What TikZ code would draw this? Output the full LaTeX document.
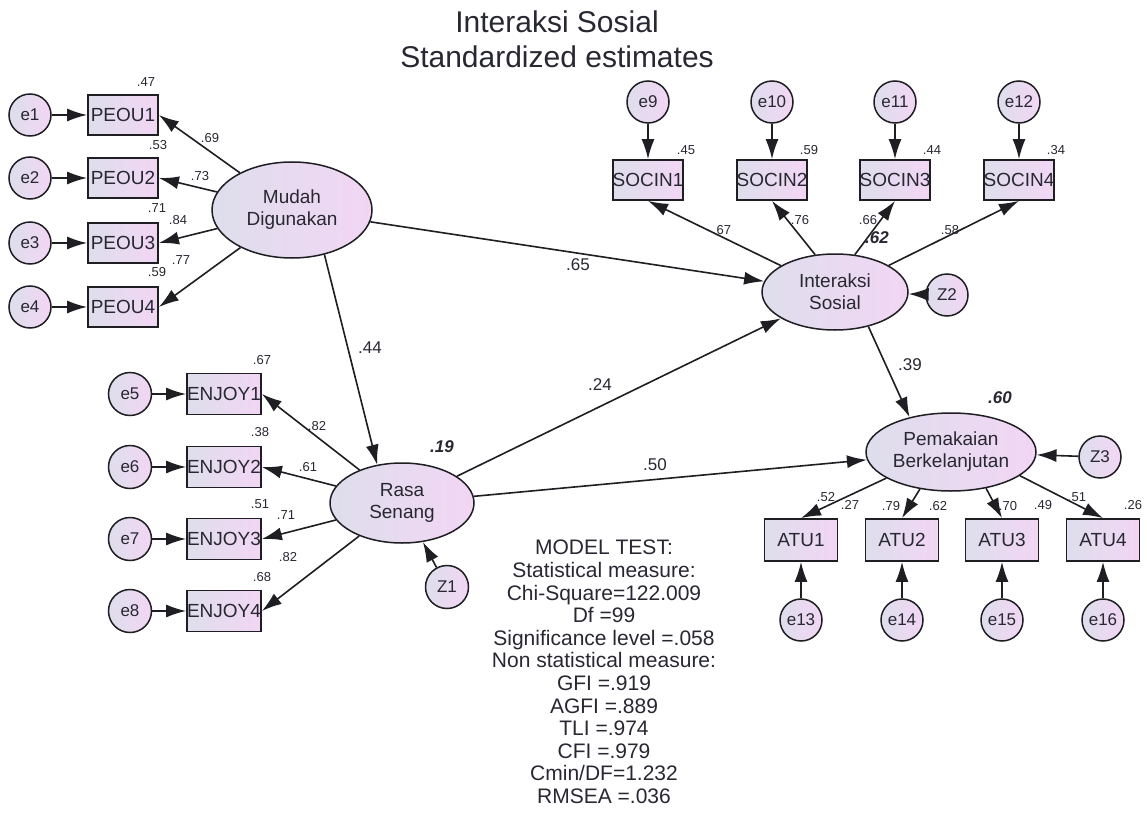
\documentclass[tikz,border=0pt]{standalone}
\usepackage{fontspec}
\setmainfont{Liberation Sans}
\usetikzlibrary{arrows.meta,shapes.geometric}
\definecolor{ln}{RGB}{30,30,35}
\definecolor{txt}{RGB}{40,40,50}
\definecolor{fillL}{RGB}{222,222,236}
\definecolor{fillR}{RGB}{242,214,244}
\begin{document}
\begin{tikzpicture}[x=1pt,y=-1pt,
  every node/.style={text=txt},
  lat/.style={ellipse, draw=ln, line width=1.5pt, left color=fillL, right color=fillR, inner sep=0pt, align=center, font=\fontsize{19}{22}\selectfont},
  obs/.style={rectangle, draw=ln, line width=1.8pt, left color=fillL, right color=fillR, minimum width=70pt, minimum height=40pt, inner sep=0pt, font=\fontsize{19}{22}\selectfont},
  err/.style={circle, draw=ln, line width=1.5pt, left color=fillL, right color=fillR, minimum size=42pt, inner sep=0pt, font=\fontsize{17}{20}\selectfont},
  arr/.style={draw=ln, line width=1.6pt, -{Latex[length=20pt,width=13pt]}},
  sm/.style={font=\fontsize{13}{15}\selectfont},
  md/.style={font=\fontsize{17}{19}\selectfont},
  rsq/.style={font=\fontsize{17}{19}\selectfont\bfseries\itshape}
]
\useasboundingbox[fill=white] (0,0) rectangle (1147,818);

% title
\node[font=\fontsize{30}{34}\selectfont] (t1) at (557,22) {Interaksi Sosial};
\node[font=\fontsize{30}{34}\selectfont] (t2) at (557,57) {Standardized estimates};

% ---------- Mudah Digunakan ----------
\node[lat, minimum width=160pt, minimum height=96pt] (mudah) at (292,210) {Mudah\\Digunakan};
\foreach \i/\y in {1/115,2/178,3/243,4/307}{
  \node[obs] (peou\i) at (123,\y) {PEOU\i};
  \node[err] (e\i) at (30,\y) {e\i};
  \draw[arr] (e\i) -- (peou\i);
  \draw[arr] (mudah) -- (peou\i.east);
}
\node[sm] (r1) at (146,82) {.47};
\node[sm] (r2) at (158,145) {.53};
\node[sm] (r3) at (157,208) {.71};
\node[sm] (r4) at (157,272) {.59};
\node[sm] (l1) at (210,138) {.69};
\node[sm] (l2) at (200,176) {.73};
\node[sm] (l3) at (178,220) {.84};
\node[sm] (l4) at (181,260) {.77};

% ---------- Rasa Senang ----------
\node[lat, minimum width=144pt, minimum height=80pt] (rasa) at (402,503) {Rasa\\Senang};
\foreach \i/\y in {1/394,2/467,3/539,4/611}{
  \node[obs, minimum width=74pt, minimum height=41pt] (enjoy\i) at (224,\y) {ENJOY\i};
  \pgfmathtruncatemacro\k{\i+4}
  \node[err, minimum size=43pt] (e\k) at (130,\y) {e\k};
  \draw[arr] (e\k) -- (enjoy\i);
  \draw[arr] (rasa) -- (enjoy\i.east);
}
\node[err, minimum size=43pt] (z1) at (447,587) {Z1};
\draw[arr] (z1) -- (rasa);
\node[sm] (r5) at (262,360) {.67};
\node[sm] (r6) at (260,432) {.38};
\node[sm] (r7) at (260,504) {.51};
\node[sm] (r8) at (262,577) {.68};
\node[sm] (l5) at (317,426) {.82};
\node[sm] (l6) at (308,467) {.61};
\node[sm] (l7) at (286,515) {.71};
\node[sm] (l8) at (288,557) {.82};
\node[rsq] (rq1) at (442,447) {.19};

% ---------- Interaksi Sosial ----------
\node[lat, minimum width=146pt, minimum height=76pt] (inter) at (835,292) {Interaksi\\Sosial};
\foreach \i/\x in {1/648,2/772,3/895,4/1019}{
  \node[obs] (socin\i) at (\x,180) {SOCIN\i};
  \pgfmathtruncatemacro\k{\i+8}
  \node[err] (e\k) at (\x,102) {e\k};
  \draw[arr] (e\k) -- (socin\i);
}
\draw[arr] (inter) -- (socin1.south);
\draw[arr] (inter.118) -- (socin2.south);
\draw[arr] (inter.62) -- (socin3.south);
\draw[arr] (inter) -- (socin4.south);
\node[err] (z2) at (947,295) {Z2};
\draw[arr] (z2) -- (inter);
\node[sm] (r9) at (686,150) {.45};
\node[sm] (r10) at (809,150) {.59};
\node[sm] (r11) at (932,150) {.44};
\node[sm] (r12) at (1056,150) {.34};
\node[sm] (l9) at (722,230) {.67};
\node[sm] (l10) at (800,220) {.76};
\node[sm] (l11) at (868,220) {.66};
\node[sm] (l12) at (950,230) {.58};
\node[rsq] (rq2) at (877,238) {.62};

% ---------- Pemakaian Berkelanjutan ----------
\node[lat, minimum width=170pt, minimum height=78pt] (pem) at (951,452) {Pemakaian\\Berkelanjutan};
\foreach \i/\x in {1/801,2/902,3/1002,4/1103}{
  \node[obs, minimum width=73pt, minimum height=42pt] (atu\i) at (\x,540) {ATU\i};
  \pgfmathtruncatemacro\k{\i+12}
  \node[err] (e\k) at (\x,620) {e\k};
  \draw[arr] (e\k) -- (atu\i);
}
\draw[arr] (pem.-158) -- (atu1.north);
\draw[arr] (pem.-130) -- (atu2.north);
\draw[arr] (pem.-46) -- (atu3.north);
\draw[arr] (pem.-19) -- (atu4.north);
\node[err] (z3) at (1100,457) {Z3};
\draw[arr] (z3) -- (pem);
\node[sm] (l13) at (826,497) {.52};
\node[sm] (l14) at (891,506) {.79};
\node[sm] (l15) at (1008,506) {.70};
\node[sm] (l16) at (1077,497) {.51};
\node[sm] (r13) at (850,505) {.27};
\node[sm] (r14) at (938,506) {.62};
\node[sm] (r15) at (1043,505) {.49};
\node[sm] (r16) at (1133,505) {.26};
\node[rsq] (rq3) at (1000,398) {.60};

% ---------- structural paths ----------
\draw[arr] (mudah.-54) -- (rasa.123);
\draw[arr] (mudah) -- (inter);
\draw[arr] (rasa) -- (inter);
\draw[arr] (rasa) -- (pem);
\draw[arr] (inter.-46) -- (pem.140);
\node[md] (p1) at (370,348) {.44};
\node[md] (p2) at (578,265) {.65};
\node[md] (p3) at (600,385) {.24};
\node[md] (p4) at (655,465) {.50};
\node[md] (p5) at (910,365) {.39};

% ---------- model test ----------
\node[anchor=north, align=center, inner sep=0pt, font=\fontsize{21}{22.6}\selectfont] (mt) at (604,540)
{MODEL TEST:\\Statistical measure:\\Chi-Square=122.009\\Df =99\\Significance level =.058\\Non statistical measure:\\GFI =.919\\AGFI =.889\\TLI =.974\\CFI =.979\\Cmin/DF=1.232\\RMSEA =.036};
\end{tikzpicture}
\end{document}
